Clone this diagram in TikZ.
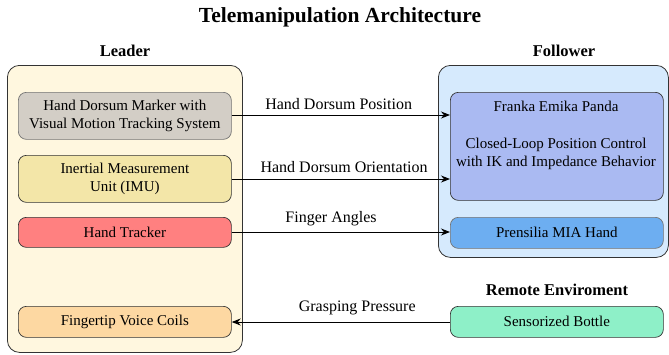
\documentclass[tikz,border=0pt]{standalone}
\usepackage{fontspec}
\setmainfont{Liberation Serif}
\usetikzlibrary{arrows.meta}
\definecolor{leaderbg}{HTML}{FFF7DF}
\definecolor{followerbg}{HTML}{D6EAFD}
\definecolor{markerc}{HTML}{D3CEC6}
\definecolor{imuc}{HTML}{F3E6A8}
\definecolor{trackc}{HTML}{FF8080}
\definecolor{coilc}{HTML}{FDD8A2}
\definecolor{frankac}{HTML}{AABAF2}
\definecolor{miac}{HTML}{6DAEF1}
\definecolor{bottlec}{HTML}{8EF0C8}
\definecolor{edgec}{HTML}{333333}
\tikzset{
  container/.style={draw=edgec, line width=0.8pt, rounded corners=12pt},
  block/.style={draw=edgec, line width=0.7pt, rounded corners=8pt, align=center, font=\fontsize{15}{18}\selectfont, inner sep=0pt},
  heading/.style={font=\bfseries\fontsize{16.5}{18}\selectfont},
  flow/.style={-{Stealth[length=9pt,width=7pt]}, line width=1pt},
  lbl/.style={font=\fontsize{16}{18}\selectfont, inner sep=0pt}
}
\begin{document}
\begin{tikzpicture}[x=1pt,y=-1pt]
\useasboundingbox (0,0) rectangle (669,354);
\node[font=\bfseries\fontsize{21.5}{23}\selectfont] (title) at (340,17) {Telemanipulation Architecture};
\node[heading] (lh) at (125,51) {Leader};
\node[heading] (fh) at (564,51) {Follower};
\node[heading] (rh) at (557,290) {Remote Enviroment};
% containers
\node[container, fill=leaderbg, minimum width=235pt, minimum height=287pt, anchor=north west] (leader) at (7,65) {};
\node[container, fill=followerbg, minimum width=230pt, minimum height=192pt, anchor=north west] (follower) at (438,65) {};
% leader blocks
\node[block, fill=markerc, draw=gray!90!black, minimum width=213pt, minimum height=47pt, anchor=north west] (marker) at (18,92) {Hand Dorsum Marker with\\Visual Motion Tracking System};
\node[block, fill=imuc, minimum width=213pt, minimum height=47pt, anchor=north west] (imu) at (18,155) {Inertial Measurement\\Unit (IMU)};
\node[block, fill=trackc, minimum width=213pt, minimum height=30pt, anchor=north west] (tracker) at (18,217) {Hand Tracker};
\node[block, fill=coilc, minimum width=213pt, minimum height=31pt, anchor=north west] (coils) at (18,306) {Fingertip Voice Coils};
% follower blocks
\node[block, fill=frankac, minimum width=213pt, minimum height=108pt, anchor=north west] (franka) at (450,92) {};
\node[font=\fontsize{15}{18}\selectfont, align=center] (frankatext) at (556,106) {Franka Emika Panda};
\node[font=\fontsize{15}{18}\selectfont, align=center] (frankactl) at (556,154) {Closed-Loop Position Control\\with IK and Impedance Behavior};
\node[block, fill=miac, draw=gray!90!black, minimum width=213pt, minimum height=31pt, anchor=north west] (mia) at (450,217) {Prensilia MIA Hand};
\node[block, fill=bottlec, minimum width=213pt, minimum height=31pt, anchor=north west] (bottle) at (450,306) {Sensorized Bottle};
% connectors
\draw[flow] (marker.east |- 0,115) -- node[lbl, pos=0.49, yshift=11pt] {Hand Dorsum Position} (franka.west |- 0,115);
\draw[flow] (imu.east |- 0,179) -- node[lbl, pos=0.515, yshift=12pt] {Hand Dorsum Orientation} (franka.west |- 0,179);
\draw[flow] (tracker.east |- 0,232) -- node[lbl, pos=0.455, yshift=13pt] {Finger Angles} (mia.west |- 0,232);
\draw[flow] (bottle.west |- 0,322) -- node[lbl, pos=0.425, yshift=14pt] {Grasping Pressure} (coils.east |- 0,322);
\end{tikzpicture}
\end{document}
